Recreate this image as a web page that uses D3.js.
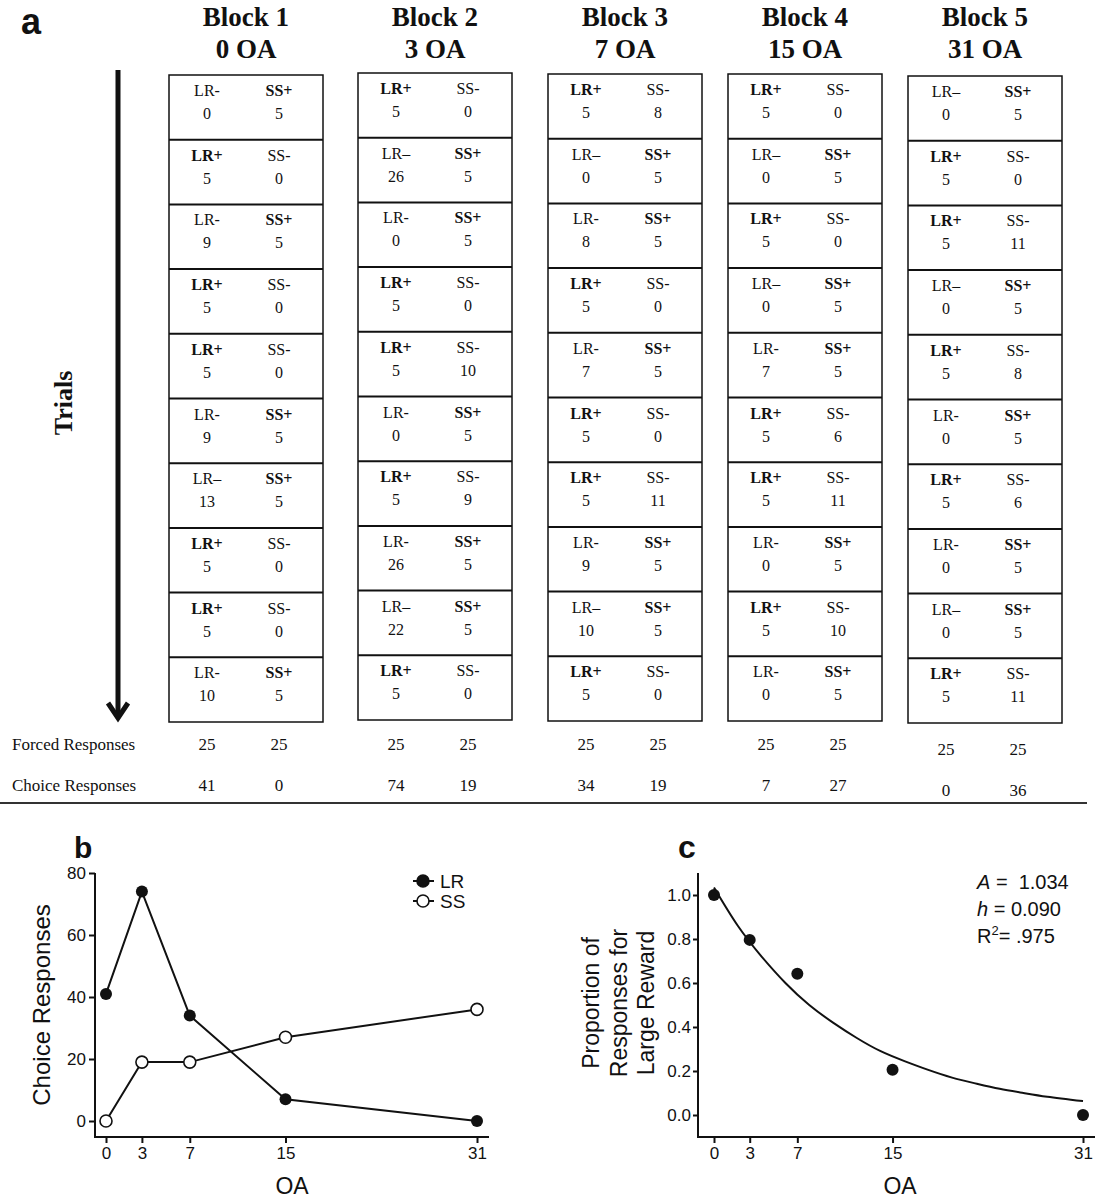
<!DOCTYPE html>
<html><head><meta charset="utf-8">
<script src="https://cdn.jsdelivr.net/npm/d3@7"></script>
<style>body{margin:0;background:#fff} svg{display:block}</style>
</head><body>
<svg id="fig" width="1097" height="1200"></svg>
<script>
// ---------------- data ----------------
const blockNames = ["Block 1","Block 2","Block 3","Block 4","Block 5"];
const blockOA = ["0 OA","3 OA","7 OA","15 OA","31 OA"];
const lrLabels = [
 ["LR-","LR+","LR-","LR+","LR+","LR-","LR–","LR+","LR+","LR-"],
 ["LR+","LR–","LR-","LR+","LR+","LR-","LR+","LR-","LR–","LR+"],
 ["LR+","LR–","LR-","LR+","LR-","LR+","LR+","LR-","LR–","LR+"],
 ["LR+","LR–","LR+","LR–","LR-","LR+","LR+","LR-","LR+","LR-"],
 ["LR–","LR+","LR+","LR–","LR+","LR-","LR+","LR-","LR–","LR+"]
];
const lrValues = [
 [0,5,9,5,5,9,13,5,5,10],
 [5,26,0,5,5,0,5,26,22,5],
 [5,0,8,5,7,5,5,9,10,5],
 [5,0,5,0,7,5,5,0,5,0],
 [0,5,5,0,5,0,5,0,0,5]
];
const ssLabels = [
 ["SS+","SS-","SS+","SS-","SS-","SS+","SS+","SS-","SS-","SS+"],
 ["SS-","SS+","SS+","SS-","SS-","SS+","SS-","SS+","SS+","SS-"],
 ["SS-","SS+","SS+","SS-","SS+","SS-","SS-","SS+","SS+","SS-"],
 ["SS-","SS+","SS-","SS+","SS+","SS-","SS-","SS+","SS-","SS+"],
 ["SS+","SS-","SS-","SS+","SS-","SS+","SS-","SS+","SS+","SS-"]
];
const ssValues = [
 [5,0,5,0,0,5,5,0,0,5],
 [0,5,5,0,10,5,9,5,5,0],
 [8,5,5,0,5,0,11,5,5,0],
 [0,5,0,5,5,6,11,5,10,5],
 [5,0,11,5,8,5,6,5,5,11]
];
const forcedLR = [25,25,25,25,25];
const forcedSS = [25,25,25,25,25];
const choiceLR = [41,74,34,7,0];
const choiceSS = [0,19,19,27,36];
const oaLevels = [0,3,7,15,31];
const propLR = [1.0,0.796,0.642,0.206,0.0];
const fitOA   = [0,2,4,6,8,10,12,14,16,18,20,22,24,26,28,31];
const fitProp = [1.034,0.86,0.72,0.60,0.50,0.42,0.35,0.29,0.245,0.205,0.17,0.143,0.119,0.10,0.083,0.063];
const bTicksY = [0,20,40,60,80];
const cTicksY = [0,0.2,0.4,0.6,0.8,1.0];

// ---------------- layout ----------------
const svg = d3.select("#fig");
const serif = "'Liberation Serif','Times New Roman',serif";
const sans = "'Liberation Sans',Arial,sans-serif";
const ink = "#111";

const blockX = d3.scaleOrdinal().domain(blockNames).range([169,358,548,728,908]);
const blockTop = d3.scaleOrdinal().domain(blockNames).range([75,73,74,74,76]);
const rowShift = d3.scaleOrdinal().domain(blockNames).range([0,0,0,0,5]);
const boxW = 154, boxH = 647;
const rowY = d3.scaleBand().domain(d3.range(10)).range([0, boxH]);
const colX = d3.scaleOrdinal().domain(["LR","SS"]).range([38,110]);

// panel label a
svg.append("text").attr("x",21).attr("y",34).attr("font-family",sans).attr("font-weight","bold")
  .attr("font-size",36).attr("fill",ink).text("a");

// Trials arrow
svg.append("line").attr("x1",118).attr("x2",118).attr("y1",70).attr("y2",717)
  .attr("stroke",ink).attr("stroke-width",5);
svg.append("path").attr("d","M108,703 L118,718 L128,703").attr("fill","none")
  .attr("stroke",ink).attr("stroke-width",5).attr("stroke-linejoin","miter");
svg.append("text").attr("transform","translate(72,403) rotate(-90)").attr("text-anchor","middle")
  .attr("font-family",serif).attr("font-weight","bold").attr("font-size",26).attr("fill",ink).text("Trials");

// blocks
blockNames.forEach((name,b) => {
  const cx = blockX(name) + boxW/2;
  svg.append("text").attr("x",cx).attr("y",26).attr("text-anchor","middle")
    .attr("font-family",serif).attr("font-weight","bold").attr("font-size",27).attr("fill",ink).text(name);
  svg.append("text").attr("x",cx).attr("y",58).attr("text-anchor","middle")
    .attr("font-family",serif).attr("font-weight","bold").attr("font-size",27).attr("fill",ink).text(blockOA[b]);

  const g = svg.append("g").attr("transform",`translate(${blockX(name)},${blockTop(name)})`);
  g.append("rect").attr("width",boxW).attr("height",boxH).attr("fill","none")
    .attr("stroke",ink).attr("stroke-width",1.5);
  g.selectAll("line.sep").data(d3.range(1,10)).join("line").attr("class","sep")
    .attr("x1",0).attr("x2",boxW).attr("y1",i=>rowY(i)).attr("y2",i=>rowY(i))
    .attr("stroke",ink).attr("stroke-width",2);

  const cells = [];
  d3.range(10).forEach(i => {
    cells.push({col:"LR", i, lab: lrLabels[b][i], val: lrValues[b][i]});
    cells.push({col:"SS", i, lab: ssLabels[b][i], val: ssValues[b][i]});
  });
  g.selectAll("text.lab").data(cells).join("text").attr("class","lab")
    .attr("x",d=>colX(d.col)).attr("y",d=>rowY(d.i)+21).attr("text-anchor","middle")
    .attr("font-family",serif).attr("font-size",16).attr("fill",ink)
    .attr("font-weight",d=>d.lab.includes("+")?"bold":"normal").text(d=>d.lab);
  g.selectAll("text.val").data(cells).join("text").attr("class","val")
    .attr("x",d=>colX(d.col)).attr("y",d=>rowY(d.i)+44).attr("text-anchor","middle")
    .attr("font-family",serif).attr("font-size",16).attr("fill",ink).text(d=>d.val);

  // forced / choice responses
  const sh = rowShift(name);
  [["LR",forcedLR[b],750],["SS",forcedSS[b],750],["LR",choiceLR[b],791],["SS",choiceSS[b],791]].forEach(([c,v,y])=>{
    svg.append("text").attr("x",blockX(name)+colX(c)).attr("y",y+sh).attr("text-anchor","middle")
      .attr("font-family",serif).attr("font-size",17).attr("fill",ink).text(v);
  });
});
svg.append("text").attr("x",12).attr("y",750).attr("font-family",serif).attr("font-size",17).attr("fill",ink).text("Forced Responses");
svg.append("text").attr("x",12).attr("y",791).attr("font-family",serif).attr("font-size",17).attr("fill",ink).text("Choice Responses");
svg.append("line").attr("x1",0).attr("x2",1087).attr("y1",803).attr("y2",803).attr("stroke","#333").attr("stroke-width",2);

// ---------------- panel b ----------------
const xb = d3.scaleLinear().domain([0,31]).range([106,477]);
const yb = d3.scaleLinear().domain([0,80]).range([1121,873]);
const axisYb = 1137, axisXb = 95;
svg.append("text").attr("x",74).attr("y",858).attr("font-family",sans).attr("font-weight","bold")
  .attr("font-size",30).attr("fill",ink).text("b");

function styleAxis(g){
  g.select(".domain").remove();
  g.selectAll(".tick line").attr("stroke",ink).attr("stroke-width",2);
  g.selectAll(".tick text").attr("font-family",sans).attr("font-size",17).attr("fill",ink);
}
svg.append("g").attr("transform",`translate(${axisXb},0)`)
  .call(d3.axisLeft(yb).tickValues(bTicksY).tickSize(6).tickPadding(3)).call(styleAxis);
svg.append("g").attr("transform",`translate(0,${axisYb})`)
  .call(d3.axisBottom(xb).tickValues(oaLevels).tickSize(6).tickPadding(4)).call(styleAxis);
svg.append("line").attr("x1",axisXb).attr("x2",axisXb).attr("y1",yb(80)).attr("y2",axisYb).attr("stroke",ink).attr("stroke-width",2);
svg.append("line").attr("x1",axisXb-1).attr("x2",489).attr("y1",axisYb).attr("y2",axisYb).attr("stroke",ink).attr("stroke-width",2);

const lineB = d3.line().x(d=>xb(d[0])).y(d=>yb(d[1]));
const lrPts = oaLevels.map((o,i)=>[o,choiceLR[i]]);
const ssPts = oaLevels.map((o,i)=>[o,choiceSS[i]]);
svg.append("path").attr("d",lineB(lrPts)).attr("fill","none").attr("stroke",ink).attr("stroke-width",2);
svg.append("path").attr("d",lineB(ssPts)).attr("fill","none").attr("stroke",ink).attr("stroke-width",2);
svg.selectAll("circle.lr").data(lrPts).join("circle").attr("class","lr")
  .attr("cx",d=>xb(d[0])).attr("cy",d=>yb(d[1])).attr("r",6).attr("fill",ink);
svg.selectAll("circle.ss").data(ssPts).join("circle").attr("class","ss")
  .attr("cx",d=>xb(d[0])).attr("cy",d=>yb(d[1])).attr("r",6).attr("fill","#fff").attr("stroke",ink).attr("stroke-width",1.6);

// legend
[["LR",881,true],["SS",901,false]].forEach(([t,y,filled])=>{
  svg.append("line").attr("x1",413).attr("x2",434).attr("y1",y).attr("y2",y).attr("stroke",ink).attr("stroke-width",2);
  svg.append("circle").attr("cx",423).attr("cy",y).attr("r",6).attr("fill",filled?ink:"#fff")
    .attr("stroke",ink).attr("stroke-width",1.6);
  svg.append("text").attr("x",440).attr("y",y+7).attr("font-family",sans).attr("font-size",19).attr("fill",ink).text(t);
});
svg.append("text").attr("transform",`translate(50,${(873+axisYb)/2}) rotate(-90)`).attr("text-anchor","middle")
  .attr("font-family",sans).attr("font-size",24).attr("fill",ink).text("Choice Responses");
svg.append("text").attr("x",292).attr("y",1194).attr("text-anchor","middle")
  .attr("font-family",sans).attr("font-size",23).attr("fill",ink).text("OA");

// ---------------- panel c ----------------
const xc = d3.scaleLinear().domain([0,31]).range([714,1083]);
const yc = d3.scaleLinear().domain([0,1]).range([1115,895]);
const axisYc = 1137, axisXc = 698;
svg.append("text").attr("x",678).attr("y",858).attr("font-family",sans).attr("font-weight","bold")
  .attr("font-size",32).attr("fill",ink).text("c");
svg.append("g").attr("transform",`translate(${axisXc},0)`)
  .call(d3.axisLeft(yc).tickValues(cTicksY).tickFormat(d3.format(".1f")).tickSize(5).tickPadding(2)).call(styleAxis);
svg.append("g").attr("transform",`translate(0,${axisYc})`)
  .call(d3.axisBottom(xc).tickValues(oaLevels).tickSize(6).tickPadding(4)).call(styleAxis);
svg.append("line").attr("x1",axisXc).attr("x2",axisXc).attr("y1",873).attr("y2",axisYc).attr("stroke",ink).attr("stroke-width",2);
svg.append("line").attr("x1",axisXc-1).attr("x2",1095).attr("y1",axisYc).attr("y2",axisYc).attr("stroke",ink).attr("stroke-width",2);

const fitPts = fitOA.map((o,i)=>[o,fitProp[i]]);
svg.append("path").attr("d",d3.line().x(d=>xc(d[0])).y(d=>yc(d[1])).curve(d3.curveNatural)(fitPts))
  .attr("fill","none").attr("stroke",ink).attr("stroke-width",2);
svg.selectAll("circle.pc").data(oaLevels.map((o,i)=>[o,propLR[i]])).join("circle").attr("class","pc")
  .attr("cx",d=>xc(d[0])).attr("cy",d=>yc(d[1])).attr("r",6).attr("fill",ink);

const ylab = ["Proportion of","Responses for","Large Reward"];
ylab.forEach((t,i)=>{
  svg.append("text").attr("transform",`translate(${599+i*27.5},1003) rotate(-90)`).attr("text-anchor","middle")
    .attr("font-family",sans).attr("font-size",23).attr("fill",ink).text(t);
});
svg.append("text").attr("x",900).attr("y",1194).attr("text-anchor","middle")
  .attr("font-family",sans).attr("font-size",23).attr("fill",ink).text("OA");

// annotation
const ann = svg.append("g").attr("font-family",sans).attr("font-size",20).attr("fill",ink);
const t1 = ann.append("text").attr("x",977).attr("y",889);
t1.append("tspan").attr("font-style","italic").text("A");
t1.append("tspan").text(" =\u00a0 1.034");
const t2 = ann.append("text").attr("x",977).attr("y",916);
t2.append("tspan").attr("font-style","italic").text("h");
t2.append("tspan").text(" = 0.090");
const t3 = ann.append("text").attr("x",977).attr("y",943);
t3.append("tspan").text("R");
t3.append("tspan").attr("font-size",13).attr("dy",-8).text("2");
t3.append("tspan").attr("dy",8).text("= .975");
</script>
</body></html>
